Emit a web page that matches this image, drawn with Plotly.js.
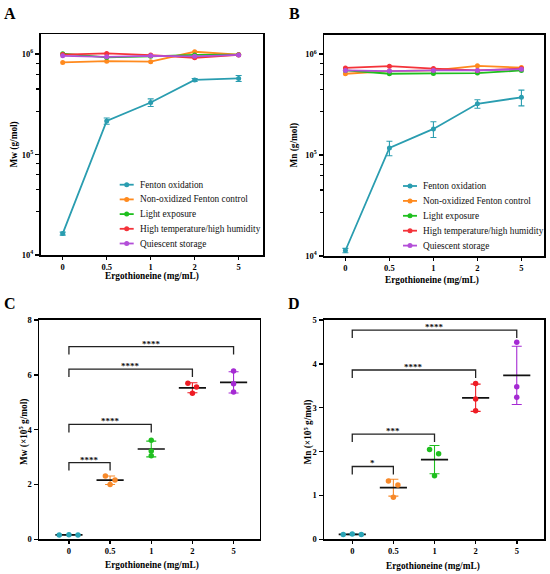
<!DOCTYPE html>
<html>
<head>
<meta charset="utf-8">
<script src="https://cdn.plot.ly/plotly-3.0.1.min.js"></script>
<style>html,body{margin:0;padding:0;background:#fff;}#chart{width:550px;height:574px;}</style>
</head>
<body>
<div id="chart"></div>
<script>
// ---------- DATA ----------
const categories = ['0', '0.5', '1', '2', '5'];
const seriesNames = ['Fenton oxidation', 'Non-oxidized Fenton control', 'Light exposure',
  'High temperature/high humidity', 'Quiescent storage'];
const xTitle = 'Ergothioneine (mg/mL)';
const yTitles = ['Mw (g/mol)', 'Mn (g/mol)', 'Mw (×10<sup>5</sup> g/mol)', 'Mn (×10<sup>5</sup> g/mol)'];

// Panel C: Mw replicates (x10^5 g/mol), Fenton oxidation, per ergothioneine level
const mwRep0 = [0.16, 0.17, 0.16];
const mwRep05 = [2.31, 2.16, 2.00];
const mwRep1 = [3.61, 3.22, 3.05];
const mwRep2 = [5.69, 5.56, 5.33];
const mwRep5 = [6.14, 5.67, 5.37];

// Panel D: Mn replicates (x10^5 g/mol)
const mnRep0 = [0.11, 0.12, 0.11];
const mnRep05 = [1.33, 1.24, 0.96];
const mnRep1 = [2.05, 1.95, 1.45];
const mnRep2 = [3.55, 3.20, 2.93];
const mnRep5 = [4.49, 3.48, 3.24];

// Panel A: Mw (g/mol) of other conditions
const mwNonOx = [8.26e5, 8.5e5, 8.4e5, 1.055e6, 9.9e5];
const mwLight = [1.01e6, 9.26e5, 9.5e5, 9.8e5, 9.85e5];
const mwHighTH = [9.9e5, 1.015e6, 9.77e5, 9.2e5, 9.8e5];
const mwQuiescent = [9.6e5, 9.4e5, 9.6e5, 9.5e5, 9.8e5];

// Panel B: Mn (g/mol) of other conditions
const mnNonOx = [6.4e5, 6.8e5, 6.9e5, 7.66e5, 7.37e5];
const mnLight = [6.9e5, 6.4e5, 6.45e5, 6.5e5, 6.9e5];
const mnHighTH = [7.3e5, 7.6e5, 7.2e5, 6.9e5, 7.2e5];
const mnQuiescent = [6.9e5, 6.8e5, 6.9e5, 6.9e5, 7.1e5];

// Significance comparisons (0 vs each level): [from, to, bracket height, label]
const sigPairsC = [[0, 1, 2.8, '****'], [0, 2, 4.19, '****'], [0, 3, 6.21, '****'], [0, 4, 7.03, '****']];
const sigPairsD = [[0, 1, 1.66, '*'], [0, 2, 2.4, '***'], [0, 3, 3.86, '****'], [0, 4, 4.77, '****']];

// ---------- STYLE ----------
const colors = ['#2a9db0', '#ff8a1e', '#1fbf1f', '#f4333a', '#b34fd8'];
const dotColors = ['#2aa4b6', '#f7892a', '#1fbf1f', '#ee1c24', '#a52ad3'];
const jitterC = [[-0.235, 0, 0.22], [-0.115, 0.12, 0], [0, 0, 0], [-0.11, 0.1, 0], [0, 0, 0]];
const jitterD = [[-0.22, 0, 0.22], [-0.12, 0.11, 0], [-0.12, 0.1, 0], [0, 0, 0], [0, 0, 0]];
const FONT = 'Liberation Serif';
const W = 550, H = 574;

const mean = a => a.reduce((s, v) => s + v, 0) / a.length;
const sd = a => { const m = mean(a); return Math.sqrt(a.reduce((s, v) => s + (v - m) * (v - m), 0) / (a.length - 1)); };

const mwReps = [mwRep0, mwRep05, mwRep1, mwRep2, mwRep5];
const mnReps = [mnRep0, mnRep05, mnRep1, mnRep2, mnRep5];
const idx = categories.map((c, i) => i);

const traces = [];
const shapes = [];
const annotations = [];

function lineSeries(xa, ya, seriesY, errs) {
  seriesY.forEach((ys, k) => {
    const t = {
      x: idx, y: ys, xaxis: xa, yaxis: ya, type: 'scatter', mode: 'lines+markers',
      name: seriesNames[k], showlegend: false,
      line: {color: colors[k], width: 1.8},
      marker: {color: colors[k], size: 5, symbol: 'circle'}
    };
    if (k === 0 && errs) {
      t.error_y = {type: 'data', array: errs, visible: true, color: colors[0], thickness: 1.1, width: 3};
    }
    traces.push(t);
  });
}

// Panel A
const mwFenton = mwReps.map(r => mean(r) * 1e5);
const mwFentonErr = mwReps.map(r => sd(r) * 1e5);
lineSeries('x', 'y', [mwFenton, mwNonOx, mwLight, mwHighTH, mwQuiescent], mwFentonErr);
// Panel B
const mnFenton = mnReps.map(r => mean(r) * 1e5);
const mnFentonErr = mnReps.map(r => sd(r) * 1e5);
lineSeries('x2', 'y2', [mnFenton, mnNonOx, mnLight, mnHighTH, mnQuiescent], mnFentonErr);

// Manual compact legends (pixel positions)
function legend(symX, textX, rowY0, rowGap) {
  seriesNames.forEach((nm, k) => {
    const y = rowY0 + k * rowGap;
    shapes.push({type: 'line', xref: 'paper', yref: 'paper', x0: (symX - 7) / W, x1: (symX + 7) / W,
      y0: 1 - y / H, y1: 1 - y / H, line: {color: colors[k], width: 1.8}});
    shapes.push({type: 'circle', xref: 'paper', yref: 'paper', x0: (symX - 2.5) / W, x1: (symX + 2.5) / W,
      y0: 1 - (y + 2.5) / H, y1: 1 - (y - 2.5) / H, fillcolor: colors[k], line: {color: colors[k], width: 0}});
    annotations.push({xref: 'paper', yref: 'paper', x: textX / W, y: 1 - y / H, text: nm, showarrow: false,
      xanchor: 'left', yanchor: 'middle', font: {family: FONT, size: 9.3, color: '#111'}});
  });
}
legend(126.7, 138, 184.7, 14.7);
legend(410, 421, 186, 14.9);

function dotPanel(xa, ya, reps, jitter) {
  reps.forEach((vals, g) => {
    const m = mean(vals), s = sd(vals);
    traces.push({x: [g], y: [m], xaxis: xa, yaxis: ya, type: 'scatter', mode: 'markers',
      marker: {opacity: 0, size: 1}, showlegend: false, hoverinfo: 'skip',
      error_y: {type: 'data', array: [s], visible: true, color: dotColors[g], thickness: 1.1, width: 5}});
    traces.push({x: [g - 0.33, g + 0.33], y: [m, m], xaxis: xa, yaxis: ya, type: 'scatter', mode: 'lines',
      line: {color: '#111', width: 1.7}, showlegend: false, hoverinfo: 'skip'});
    traces.push({x: vals.map((v, i) => g + jitter[g][i]), y: vals, xaxis: xa, yaxis: ya,
      type: 'scatter', mode: 'markers', marker: {color: dotColors[g], size: 5.5},
      showlegend: false});
  });
}
dotPanel('x3', 'y3', mwReps, jitterC);
dotPanel('x4', 'y4', mnReps, jitterD);

// Brackets
function brackets(xa, ya, pairs, leg) {
  pairs.forEach(([a, b, top, txt]) => {
    shapes.push({type: 'path', xref: xa, yref: ya,
      path: `M ${a} ${top - leg} L ${a} ${top} L ${b} ${top} L ${b} ${top - leg}`,
      line: {color: '#222', width: 1.3}});
    annotations.push({xref: xa, yref: ya, x: (a + b) / 2, y: top, text: '<b>' + txt + '</b>',
      showarrow: false, yanchor: 'bottom', yshift: -4,
      font: {family: FONT, size: 9, color: '#111'}});
  });
}
brackets('x3', 'y3', sigPairsC, 0.29);
brackets('x4', 'y4', sigPairsD, 0.18);

// Panel letters
[['A', 10, 13], ['B', 294, 13], ['C', 10, 303], ['D', 294, 303]].forEach(([t, px, py]) => {
  annotations.push({xref: 'paper', yref: 'paper', x: px / W, y: 1 - py / H, text: '<b>' + t + '</b>',
    showarrow: false, xanchor: 'center', yanchor: 'middle', font: {family: FONT, size: 16, color: '#000'}});
});

// Axis titles (pixel-placed)
const titleFont = {family: FONT, size: 9.3, color: '#000'};
[[151.5, 277], [432, 280], [151.5, 565], [433, 566]].forEach(([px, py]) => {
  annotations.push({xref: 'paper', yref: 'paper', x: px / W, y: 1 - py / H, text: '<b>' + xTitle + '</b>',
    showarrow: false, xanchor: 'center', yanchor: 'middle', font: titleFont});
});
[[14, 144.5], [293.5, 145], [23, 432], [307.5, 432]].forEach(([px, py], i) => {
  annotations.push({xref: 'paper', yref: 'paper', x: px / W, y: 1 - py / H, text: '<b>' + yTitles[i] + '</b>',
    showarrow: false, xanchor: 'center', yanchor: 'middle', textangle: -90, font: titleFont});
});

const tickFont = {family: FONT, size: 8.5, color: '#000', weight: 'bold'};

function xAxis(domain, range, anchor) {
  return {domain, range, anchor, tickmode: 'array', tickvals: idx, ticktext: categories,
    showline: true, mirror: true, linewidth: 1.8, linecolor: '#000', showgrid: false, zeroline: false,
    ticks: 'outside', ticklen: 3, tickwidth: 1.5, tickcolor: '#000', tickfont: tickFont, automargin: false};
}
function minorVals() {
  const out = [];
  [4, 5].forEach(e => [2.7, 4.5, 6.3, 8.1].forEach(m => out.push(m * Math.pow(10, e))));
  return out;
}
function yLog(domain, range, anchor) {
  return {domain, range, anchor, type: 'log', tickmode: 'array', tickvals: [1e4, 1e5, 1e6],
    ticktext: ['10<sup>4</sup>', '10<sup>5</sup>', '10<sup>6</sup>'],
    showline: true, mirror: true, linewidth: 1.8, linecolor: '#000', showgrid: false, zeroline: false,
    ticks: 'outside', ticklen: 4, tickwidth: 1.5, tickcolor: '#000', tickfont: tickFont,
    minor: {tickmode: 'array', tickvals: minorVals(), ticks: 'outside', ticklen: 2.5, tickwidth: 1.2, tickcolor: '#000', showgrid: false},
    automargin: false};
}
function yLin(domain, range, anchor, dtick) {
  return {domain, range, anchor, tickmode: 'linear', tick0: 0, dtick,
    showline: true, mirror: true, linewidth: 1.8, linecolor: '#000', showgrid: false, zeroline: false,
    ticks: 'outside', ticklen: 4, tickwidth: 1.5, tickcolor: '#000', tickfont: tickFont, automargin: false};
}

const layout = {
  width: W, height: H, margin: {l: 0, r: 0, t: 0, b: 0},
  paper_bgcolor: '#fff', plot_bgcolor: '#fff',
  xaxis: xAxis([40.7 / W, 263.3 / W], [-0.5, 4.56], 'y'),
  yaxis: yLog([1 - 255 / H, 1 - 34.3 / H], [4, 6.197], 'x'),
  xaxis2: xAxis([324.3 / W, 544.3 / W], [-0.48, 4.52], 'y2'),
  yaxis2: yLog([1 - 256 / H, 1 - 35 / H], [4, 6.19], 'x2'),
  xaxis3: xAxis([39.3 / W, 259.5 / W], [-0.72, 4.63], 'y3'),
  yaxis3: yLin([1 - 539.3 / H, 1 - 320 / H], [0, 8], 'x3', 2),
  xaxis4: xAxis([324.3 / W, 544.3 / W], [-0.68, 4.67], 'y4'),
  yaxis4: yLin([1 - 539.3 / H, 1 - 320 / H], [0, 5], 'x4', 1),
  shapes, annotations, showlegend: false
};

Plotly.newPlot('chart', traces, layout, {displayModeBar: false, staticPlot: true});
</script>
</body>
</html>
